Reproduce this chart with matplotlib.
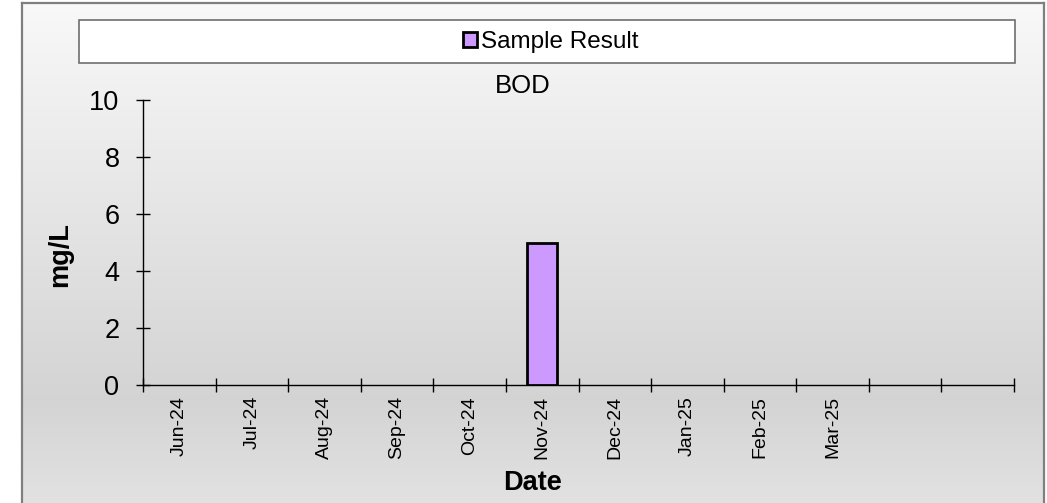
import numpy as np
import matplotlib
matplotlib.use("Agg")
import matplotlib.pyplot as plt
from matplotlib.patches import Rectangle

months = ["Jun-24", "Jul-24", "Aug-24", "Sep-24", "Oct-24", "Nov-24",
          "Dec-24", "Jan-25", "Feb-25", "Mar-25", "", ""]
bar_months = ["Nov-24"]
bar_values = [5]

plt.rcParams['font.family'] = ['Liberation Sans', 'DejaVu Sans']

W, H = 1047, 503
fig = plt.figure(figsize=(W / 100, H / 100), dpi=100)
fig.patch.set_facecolor("white")

# chart area with vertical gradient
bg = fig.add_axes([22 / W, 0, (1044 - 22) / W, (H - 3) / H])
stops_y = [0.0, 0.79, 1.0]
stops_c = [0.975, 0.83, 0.885]
grad = np.interp(np.linspace(0, 1, 256), stops_y, stops_c)
bg.imshow(np.dstack([grad] * 3).reshape(256, 1, 3), aspect="auto",
          extent=[0, 1, 0, 1], origin="upper")
bg.set_xlim(0, 1)
bg.set_ylim(0, 1)
bg.set_xticks([])
bg.set_yticks([])
for s in ["left", "right", "top"]:
    bg.spines[s].set_color("#7f7f7f")
    bg.spines[s].set_linewidth(1.6)
bg.spines["bottom"].set_visible(False)

# legend box
fig.patches.append(Rectangle((79 / W, 1 - 63 / H), (1015 - 79) / W, 43 / H,
                             transform=fig.transFigure, facecolor="white",
                             edgecolor="#6e6e6e", linewidth=1.2, zorder=2))

ax = fig.add_axes([143 / W, (H - 385) / H, (1014 - 143) / W, 285 / H])
ax.set_facecolor("none")
xpos = [months.index(m) + 0.5 for m in bar_months]
bars = ax.bar(xpos, bar_values, width=0.41, color="#cc99ff",
              edgecolor="black", linewidth=2, label="Sample Result", zorder=3)

ax.set_xlim(0, len(months))
ax.set_ylim(0, 10)
ax.set_yticks(np.arange(0, 11, 2))
ax.set_xticks(np.arange(0, len(months) + 1))
ax.set_xticklabels([])
ax.set_xticks(np.arange(len(months)) + 0.5, minor=True)
ax.set_xticklabels(months, minor=True, rotation=90, fontsize=14)
ax.tick_params(axis="x", which="minor", length=0, pad=8)
ax.tick_params(axis="x", which="major", direction="inout", length=10, width=1)
ax.tick_params(axis="y", direction="inout", length=10, width=1,
               labelsize=19.5, pad=12)
for s in ["top", "right"]:
    ax.spines[s].set_visible(False)
for s in ["left", "bottom"]:
    ax.spines[s].set_linewidth(1)

fig.text(523 / W, 1 - 86 / H, "BOD", ha="center", va="center", fontsize=18.5)
fig.text(533 / W, 1 - 483 / H, "Date", ha="center", va="center",
         fontsize=19.5, fontweight="bold")
fig.text(60 / W, 1 - 255 / H, "mg/L", ha="center", va="center",
         fontsize=19.5, fontweight="bold", rotation=90)

fig.legend(handles=[bars], loc="center", bbox_to_anchor=(551 / W, 1 - 42 / H),
           frameon=False, fontsize=17.5, handlelength=0.55, handleheight=0.55,
           handletextpad=0.2, borderpad=0)

fig.savefig("out.png", dpi=100)
